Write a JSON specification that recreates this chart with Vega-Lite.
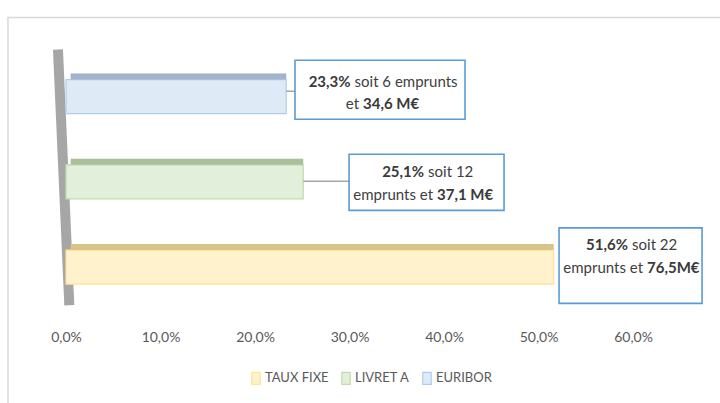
{
  "$schema": "https://vega.github.io/schema/vega-lite/v6.json",
  "width": 654,
  "height": 320,
  "autosize": "none",
  "padding": {"left": 66, "top": 0, "right": 0, "bottom": 83},
  "background": "white",
  "config": {
    "view": {"stroke": null},
    "font": "Lato",
    "text": {"font": "Lato"}
  },
  "datasets": {
    "series": [
      {"serie": "EURIBOR", "rang": 1, "valeur": 23.3},
      {"serie": "LIVRET A", "rang": 2, "valeur": 25.1},
      {"serie": "TAUX FIXE", "rang": 3, "valeur": 51.6}
    ],
    "etiquettes": [
      {"serie": "EURIBOR", "valeur": 23.3, "bx0": 24.23, "bx1": 42.22, "by0": 0.574, "by1": 1.267, "gras1": "23,3%", "normal1": "soit 6 emprunts", "normal2": "et", "gras2": "34,6 M€", "sx1": 30.32, "sy1": 0.824, "sx2": 31.22, "sy2": 1.085, "lien_y": 0.9375},
      {"serie": "LIVRET A", "valeur": 25.1, "bx0": 29.95, "bx1": 46.35, "by0": 1.676, "by1": 2.335, "gras1": "25,1%", "normal1": "soit 12", "normal2": "emprunts et", "gras2": "37,1 M€", "sx1": 38.10, "sy1": 1.881, "sx2": 39.05, "sy2": 2.153, "lien_y": 1.994},
      {"serie": "TAUX FIXE", "valeur": 51.6, "bx0": 52.17, "bx1": 67.30, "by0": 2.540, "by1": 3.426, "gras1": "51,6%", "normal1": "soit 22", "normal2": "emprunts et", "gras2": "76,5M€", "sx1": 59.68, "sy1": 2.744, "sx2": 61.27, "sy2": 3.017, "lien_y": null}
    ]
  },
  "layer": [
    {
      "data": {"values": [{}]},
      "mark": {"type": "rect", "fillOpacity": 0, "stroke": "#d9d9d9", "strokeWidth": 1.5},
      "encoding": {
        "x": {"datum": -6.14, "type": "quantitative", "scale": {"domain": [0, 69.2], "nice": false, "zero": false},
          "axis": {"values": [0, 10, 20, 30, 40, 50, 60], "labelExpr": "replace(format(datum.value, '.1f'), '.', ',') + '%'", "title": null, "domain": false, "ticks": false, "tickSize": 0, "grid": false, "labelFlush": false, "labelPadding": 17, "labelBaseline": "middle", "labelFontSize": 14, "labelColor": "#595959", "labelFont": "Lato"}},
        "x2": {"datum": 69.9},
        "y": {"datum": 0.074, "type": "quantitative", "scale": {"domain": [-0.0739, 3.5625], "nice": false, "zero": false, "reverse": true}, "axis": null},
        "y2": {"datum": 4.7}
      }
    },
    {
      "data": {"values": [{}]},
      "mark": {"type": "rule", "stroke": "#a6a6a6", "strokeWidth": 10, "strokeCap": "butt"},
      "encoding": {
        "x": {"datum": -0.85, "type": "quantitative"},
        "x2": {"datum": 0.35},
        "y": {"datum": 0.449, "type": "quantitative", "axis": null},
        "y2": {"datum": 3.449}
      }
    },
    {
      "data": {"name": "series"},
      "mark": {"type": "bar", "orient": "horizontal", "size": 34, "strokeWidth": 1.2},
      "encoding": {
        "x": {"field": "valeur", "type": "quantitative", "title": null},
        "y": {"field": "rang", "type": "quantitative", "axis": null},
        "fill": {"field": "serie", "type": "nominal",
          "scale": {"domain": ["TAUX FIXE", "LIVRET A", "EURIBOR"], "range": ["#fff2cc", "#e2efda", "#deebf7"]},
          "legend": {"orient": "none", "legendX": 183, "legendY": 371, "direction": "horizontal", "title": null, "symbolType": "M-0.7,-1H0.7V1H-0.7Z", "symbolSize": 144, "symbolStrokeWidth": 1.2, "labelFontSize": 13, "labelColor": "#595959", "labelOffset": 2, "columnPadding": 10, "labelFont": "Lato"}},
        "stroke": {"field": "serie", "type": "nominal",
          "scale": {"domain": ["TAUX FIXE", "LIVRET A", "EURIBOR"], "range": ["#ffe38f", "#bfdcab", "#b0cced"]},
          "legend": {"orient": "none", "legendX": 183, "legendY": 371, "direction": "horizontal", "title": null, "symbolType": "M-0.7,-1H0.7V1H-0.7Z", "symbolSize": 144, "symbolStrokeWidth": 1.2, "labelFontSize": 13, "labelColor": "#595959", "labelOffset": 2, "columnPadding": 10, "labelFont": "Lato"}}
      }
    },
    {
      "data": {"name": "series"},
      "mark": {"type": "rule", "strokeWidth": 6, "strokeCap": "butt", "yOffset": -20},
      "encoding": {
        "x": {"field": "valeur", "type": "quantitative", "title": null},
        "x2": {"datum": 0.5},
        "y": {"field": "rang", "type": "quantitative", "axis": null},
        "stroke": {"field": "serie", "type": "nominal", "legend": null}
      }
    },
    {
      "data": {"name": "series"},
      "mark": {"type": "rule", "strokeWidth": 6, "strokeCap": "butt", "yOffset": -20, "stroke": "#7f7f7f", "strokeOpacity": 0.3},
      "encoding": {
        "x": {"field": "valeur", "type": "quantitative", "title": null},
        "x2": {"datum": 0.5},
        "y": {"field": "rang", "type": "quantitative", "axis": null}
      }
    },
    {
      "data": {"name": "etiquettes"},
      "transform": [{"filter": "datum.lien_y != null"}],
      "mark": {"type": "rule", "stroke": "#a6a6a6", "strokeWidth": 1.5},
      "encoding": {
        "x": {"field": "valeur", "type": "quantitative", "title": null},
        "x2": {"field": "bx0"},
        "y": {"field": "lien_y", "type": "quantitative", "axis": null}
      }
    },
    {
      "data": {"name": "etiquettes"},
      "mark": {"type": "rect", "fill": "white", "stroke": "#5b9bd5", "strokeWidth": 1.6},
      "encoding": {
        "x": {"field": "bx0", "type": "quantitative", "title": null},
        "x2": {"field": "bx1"},
        "y": {"field": "by0", "type": "quantitative", "axis": null},
        "y2": {"field": "by1"}
      }
    },
    {
      "data": {"name": "etiquettes"},
      "mark": {"type": "text", "align": "right", "baseline": "middle", "fontSize": 15, "fontWeight": "bold", "color": "#3a3a3a", "dx": -2},
      "encoding": {
        "x": {"field": "sx1", "type": "quantitative", "title": null},
        "y": {"field": "sy1", "type": "quantitative", "axis": null},
        "text": {"field": "gras1"}
      }
    },
    {
      "data": {"name": "etiquettes"},
      "mark": {"type": "text", "align": "left", "baseline": "middle", "fontSize": 15, "color": "#404040", "dx": 2},
      "encoding": {
        "x": {"field": "sx1", "type": "quantitative", "title": null},
        "y": {"field": "sy1", "type": "quantitative", "axis": null},
        "text": {"field": "normal1"}
      }
    },
    {
      "data": {"name": "etiquettes"},
      "mark": {"type": "text", "align": "right", "baseline": "middle", "fontSize": 15, "color": "#404040", "dx": -2},
      "encoding": {
        "x": {"field": "sx2", "type": "quantitative", "title": null},
        "y": {"field": "sy2", "type": "quantitative", "axis": null},
        "text": {"field": "normal2"}
      }
    },
    {
      "data": {"name": "etiquettes"},
      "mark": {"type": "text", "align": "left", "baseline": "middle", "fontSize": 15, "fontWeight": "bold", "color": "#3a3a3a", "dx": 2},
      "encoding": {
        "x": {"field": "sx2", "type": "quantitative", "title": null},
        "y": {"field": "sy2", "type": "quantitative", "axis": null},
        "text": {"field": "gras2"}
      }
    }
  ]
}
